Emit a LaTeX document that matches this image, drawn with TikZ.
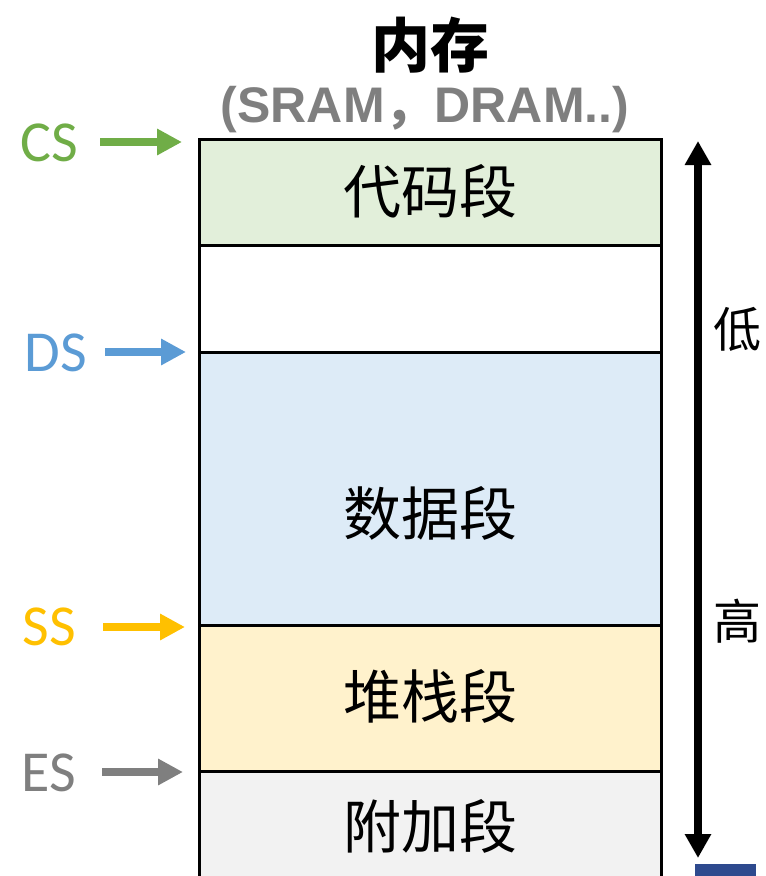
\documentclass[tikz,border=0pt]{standalone}
\usepackage{fontspec}
\setmainfont{Liberation Sans}
\newfontfamily\cjk{Noto Sans CJK SC}
\newfontfamily\lbl{Carlito}
\usetikzlibrary{arrows.meta}
\definecolor{cgreen}{HTML}{70AD47}
\definecolor{cblue}{HTML}{5B9BD5}
\definecolor{cyellow}{HTML}{FFC000}
\definecolor{cgray}{HTML}{7F7F7F}
\definecolor{fgreen}{HTML}{E2EFDA}
\definecolor{fblue}{HTML}{DDEBF7}
\definecolor{fyellow}{HTML}{FFF2CC}
\definecolor{fgray}{HTML}{F2F2F2}
\definecolor{navy}{HTML}{2E4A8E}
\begin{document}
\begin{tikzpicture}[x=1pt,y=-1pt,
  seg/.style={draw=black, line width=3pt, rectangle, minimum width=462pt, inner sep=0pt},
  segtext/.style={font=\cjk\fontsize{58}{62}\selectfont, inner sep=0pt},
  reglbl/.style={font=\lbl\fontsize{58}{62}\selectfont, inner sep=0pt},
  regarrow/.style={line width=8.5pt, -{Triangle[length=25pt,width=25pt]}},
  side/.style={font=\cjk\fontsize{48}{52}\selectfont, inner sep=0pt}]
\useasboundingbox (0,0) rectangle (766,876);
\clip (0,0) rectangle (766,876);
% segments
\node[seg, fill=fgreen, minimum height=106pt] (code) at (430,192) {};
\node[seg, fill=white, minimum height=107pt] (free) at (430,298.5) {};
\node[seg, fill=fblue, minimum height=273pt] (data) at (430,488.5) {};
\node[seg, fill=fyellow, minimum height=146pt] (stack) at (430,698) {};
\node[seg, fill=fgray, minimum height=120pt] (extra) at (430,831) {};
% segment texts
\node[segtext] (tcode) at (430,191) {代码段};
\node[segtext] (tdata) at (430,513) {数据段};
\node[segtext] (tstack) at (430,696) {堆栈段};
\node[segtext] (textra) at (430,826) {附加段};
% title
\node[font=\cjk\bfseries\fontsize{59}{62}\selectfont, inner sep=0pt] (title) at (430,45) {内存};
\node[font=\bfseries\fontsize{50}{54}\selectfont, text=cgray, inner sep=0pt] (sub) at (425,110) {(SRAM{\cjk ，}DRAM..)};
% register labels
\coordinate (pcs) at (182,142);
\coordinate (pds) at (186,352);
\coordinate (pss) at (185,627);
\coordinate (pes) at (183,772);
\node[reglbl, text=cgreen, anchor=east] (cs) at (78,143) {CS};
\node[reglbl, text=cblue, anchor=east] (ds) at (87,353) {DS};
\node[reglbl, text=cyellow, anchor=east] (ss) at (76,627) {SS};
\node[reglbl, text=cgray, anchor=east] (es) at (76,773) {ES};
\draw[regarrow, cgreen] (100,142) -- (pcs);
\draw[regarrow, cblue] (105,352) -- (pds);
\draw[regarrow, cyellow] (103,627) -- (pss);
\draw[regarrow, cgray] (102,772) -- (pes);
% direction arrow
\coordinate (top) at (698,141);
\coordinate (bot) at (698,858);
\draw[line width=8pt, {Triangle[length=24pt,width=25pt]}-{Triangle[length=24pt,width=25pt]}] (top) -- (bot);
\node[side] (low) at (737,329) {低};
\node[side] (high) at (737,621) {高};
% navy bar
\fill[navy] (695,864) rectangle (756,880);
\end{tikzpicture}
\end{document}
